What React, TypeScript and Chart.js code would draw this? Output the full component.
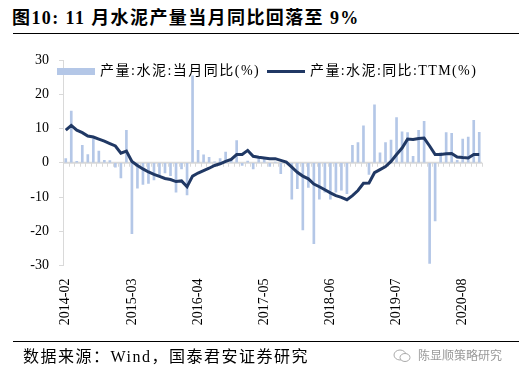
import React, { useEffect, useRef } from "react";
import { Chart, registerables } from "chart.js";

Chart.register(...registerables);

// Months (January is merged into February, so it is missing every year)
const years = [2014, 2015, 2016, 2017, 2018, 2019, 2020];
const monthsPerYear = ["02", "03", "04", "05", "06", "07", "08", "09", "10", "11", "12"];
const lastMonth2020 = "11";

const categories: string[] = [];
for (const y of years) {
  for (const m of monthsPerYear) {
    categories.push(`${y}-${m}`);
    if (y === 2020 && m === lastMonth2020) break;
  }
}

// 产量:水泥:当月同比(%)
const monthlyYoY = [
  1.2, 15.1, 0.4, 5.1, 2.4, 7.0, 3.4, 0.7, 0.6, -1.3, -4.4,
  9.5, -20.7, -7.4, -6.3, -6.0, -5.0, -3.7, -3.0, -3.8, -8.6, -1.8,
  -9.4, 25.4, 3.6, 2.3, 1.6, 0.3, 1.2, 3.1, 0.8, 6.5, -0.8,
  0.5, -1.8, 1.9, 1.2, -1.1, 0.2, -3.2, 0.0, -10.6, -7.6, -19.6,
  -7.2, -23.6, -10.6, -8.6, -10.6, -8.6, -8.0, -9.0, 5.1, 5.9, 10.8,
  -3.4, 16.9, 2.9, 5.9, 6.6, 13.2, 9.0, 8.8, 1.9, 9.5, 12.1,
  -29.4, -17.0, 3.0, 8.8, 8.6, 0.7, 6.9, 7.5, 12.4, 8.9,
];

// 产量:水泥:同比:TTM(%)
const ttmYoY = [
  9.5, 10.9, 9.5, 8.8, 7.8, 7.5, 6.9, 6.3, 5.6, 4.9, 2.8,
  3.4, 0.4, -0.8, -1.8, -2.7, -3.4, -4.0, -4.6, -4.9, -5.5, -5.3,
  -7.0, -3.9, -3.0, -2.3, -1.6, -0.8, -0.3, 0.4, 1.0, 2.4, 2.4,
  3.6, 1.9, 1.6, 1.4, 1.2, 1.2, 0.7, 0.2, -1.3, -2.8, -3.9,
  -4.7, -6.2, -7.0, -7.9, -8.8, -9.6, -10.1, -10.8, -9.6, -8.1, -6.0,
  -5.9, -2.9, -2.0, -1.1, 0.4, 2.4, 4.3, 6.9, 6.8, 7.1, 7.2,
  4.9, 2.4, 2.4, 2.6, 2.7, 1.7, 1.5, 1.4, 2.4, 2.4,
];

const yTicks = [-30, -20, -10, 0, 10, 20, 30];
const labelEvery = 12;

const title = "图10: 11 月水泥产量当月同比回落至 9%";
const barLabel = "产量:水泥:当月同比(%)";
const lineLabel = "产量:水泥:同比:TTM(%)";
const source = "数据来源：Wind，国泰君安证券研究";
const watermark = "陈显顺策略研究";

const BAR_COLOR = "#b4c7e7";
const LINE_COLOR = "#203864";
const AXIS_COLOR = "#d9d9d9";
const SERIF = '"Liberation Serif", "Times New Roman", "Noto Sans CJK SC", serif';

const zeroLinePlugin = {
  id: "zeroLine",
  beforeDatasetsDraw(chart: any) {
    const { ctx, chartArea, scales } = chart;
    const y0 = scales.y.getPixelForValue(0);
    const n = categories.length;
    const w = (chartArea.right - chartArea.left) / n;
    ctx.save();
    ctx.strokeStyle = AXIS_COLOR;
    ctx.lineWidth = 2;
    ctx.beginPath();
    ctx.moveTo(chartArea.left, y0);
    ctx.lineTo(chartArea.right, y0);
    ctx.stroke();
    ctx.lineWidth = 1;
    ctx.beginPath();
    for (let i = 0; i <= n; i++) {
      const x = Math.round(chartArea.left + i * w) + 0.5;
      ctx.moveTo(x, y0);
      ctx.lineTo(x, y0 + 4);
    }
    ctx.stroke();
    ctx.restore();
  },
};

export default function App() {
  const canvasRef = useRef<HTMLCanvasElement | null>(null);

  useEffect(() => {
    if (!canvasRef.current) return;
    const chart = new Chart(canvasRef.current, {
      type: "bar",
      data: {
        labels: categories,
        datasets: [
          {
            type: "line",
            label: lineLabel,
            data: ttmYoY,
            borderColor: LINE_COLOR,
            backgroundColor: LINE_COLOR,
            borderWidth: 3,
            pointRadius: 0,
            tension: 0,
            order: 0,
          },
          {
            type: "bar",
            label: barLabel,
            data: monthlyYoY,
            backgroundColor: BAR_COLOR,
            barThickness: 2,
            order: 1,
          },
        ],
      },
      options: {
        responsive: false,
        animation: false,
        layout: { padding: { left: 0, right: 37, top: 60, bottom: 0 } },
        plugins: { legend: { display: false }, tooltip: { enabled: false } },
        scales: {
          x: {
            type: "category",
            offset: true,
            grid: { display: false, drawTicks: false },
            border: { display: false },
            ticks: {
              autoSkip: false,
              minRotation: 90,
              maxRotation: 90,
              padding: 13,
              color: "#000",
              font: { family: SERIF, size: 14 },
              callback: (_v: any, i: number) => (i % labelEvery === 0 ? categories[i] : ""),
            },
            afterFit: (s: any) => {
              s.height = 385 - 265.5;
            },
          },
          y: {
            min: yTicks[0],
            max: yTicks[yTicks.length - 1],
            afterBuildTicks: (s: any) => {
              s.ticks = yTicks.map((v) => ({ value: v }));
            },
            ticks: {
              padding: 10,
              color: "#000",
              font: { family: SERIF, size: 14 },
            },
            grid: { drawOnChartArea: false, drawTicks: true, tickLength: 4, color: AXIS_COLOR },
            border: { color: AXIS_COLOR, width: 1 },
            afterFit: (s: any) => {
              s.width = 63;
            },
          },
        },
      },
      plugins: [zeroLinePlugin],
    });
    return () => chart.destroy();
  }, []);

  const textBase: React.CSSProperties = {
    position: "absolute",
    fontFamily: SERIF,
    color: "#000",
    whiteSpace: "nowrap",
    lineHeight: 1,
  };

  return (
    <div style={{ position: "absolute", left: 0, top: 0, width: 519, height: 385, background: "#fff", overflow: "hidden" }}>
      <div style={{ ...textBase, left: 12, top: 9, fontSize: 18, fontWeight: "bold", letterSpacing: 1.4 }}>{title}</div>
      <div style={{ position: "absolute", left: 13, top: 33, width: 506, height: 1, background: "#000" }} />
      <canvas ref={canvasRef} width={519} height={385} style={{ position: "absolute", left: 0, top: 0 }} />
      <div style={{ position: "absolute", left: 57, top: 68, width: 38, height: 7, background: BAR_COLOR }} />
      <div style={{ ...textBase, left: 100, top: 64, fontSize: 14, letterSpacing: 1.5 }}>{barLabel}</div>
      <div style={{ position: "absolute", left: 267, top: 70, width: 38, height: 3, background: LINE_COLOR }} />
      <div style={{ ...textBase, left: 310, top: 64, fontSize: 14, letterSpacing: 1.4 }}>{lineLabel}</div>
      <div style={{ position: "absolute", left: 13, top: 341, width: 506, height: 1, background: "#000" }} />
      <div style={{ ...textBase, left: 23, top: 349, fontSize: 16, letterSpacing: 1.5 }}>{source}</div>
      <svg style={{ position: "absolute", left: 393, top: 349 }} width={18} height={14} viewBox="0 0 18 14">
        <ellipse cx={7} cy={6} rx={6} ry={5} fill="none" stroke="#aaa" strokeWidth={1} />
        <ellipse cx={12} cy={8.5} rx={5} ry={4} fill="#fff" stroke="#aaa" strokeWidth={1} />
      </svg>
      <div style={{ ...textBase, left: 418, top: 350, fontSize: 12, color: "#999" }}>{watermark}</div>
    </div>
  );
}
